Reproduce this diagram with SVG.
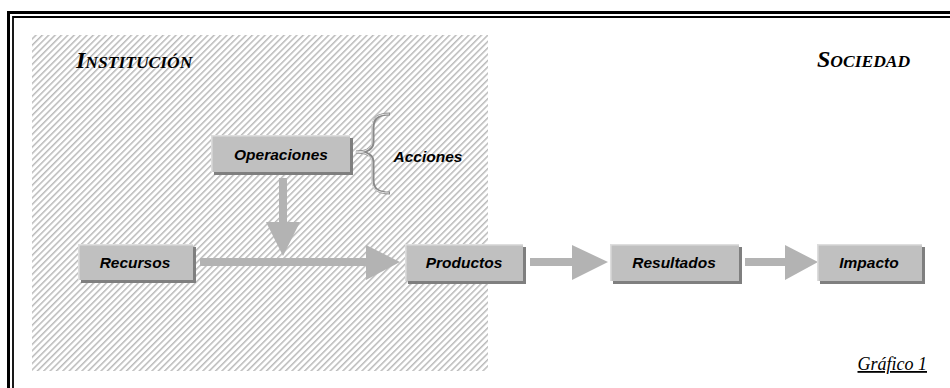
<svg xmlns="http://www.w3.org/2000/svg" width="950" height="388" viewBox="0 0 950 388">
<defs>
<pattern id="hatch" patternUnits="userSpaceOnUse" width="4.5" height="4.5" patternTransform="rotate(45)">
<rect x="0" y="0" width="1.5" height="4.5" fill="#bababa"/>
</pattern>
<style>
.box{fill:#c0c0c0;}
.shadow{fill:#7f7f7f;}
.hl{fill:none;stroke:#dedede;stroke-width:1.5;}
.lbl{font-family:"Liberation Sans",Arial,sans-serif;font-weight:bold;font-style:italic;font-size:15.5px;fill:#000;text-anchor:middle;}
.arrow{fill:#b3b3b3;}
.title{font-family:"Liberation Serif","Times New Roman",serif;font-weight:bold;font-style:italic;fill:#000;}
</style>
</defs>
<rect width="950" height="388" fill="#fff"/>
<!-- border -->
<path d="M8.5 400 V12.5 H960" fill="none" stroke="#000" stroke-width="3"/>
<path d="M13 400 V17 H960" fill="none" stroke="#000" stroke-width="1.8"/>
<!-- hatched institution area -->
<rect x="32" y="35" width="456" height="336" fill="url(#hatch)"/>
<g id="titles">
<text class="title" x="76" y="68"><tspan font-size="24">I</tspan><tspan font-size="17.5">NSTITUCIÓN</tspan></text>
<text class="title" x="817" y="67"><tspan font-size="24">S</tspan><tspan font-size="17.5">OCIEDAD</tspan></text>
<text x="927" y="370" font-family="'Liberation Serif','Times New Roman',serif" font-style="italic" font-size="18" text-anchor="end" text-decoration="underline">Gráfico 1</text>
</g>
<g id="connectors">
<polygon class="arrow" points="279,178 287,178 287,222 300,222 283,256 266,222 279,222"/>
<polygon class="arrow" points="200,258 366,258 366,245 400,262 366,280 366,266 200,266"/>
<polygon class="arrow" points="530,258 572,258 572,245 608,262 572,280 572,266 530,266"/>
<polygon class="arrow" points="745,258 785,258 785,245 818,262 785,280 785,266 745,266"/>
</g>
<g id="operaciones">
<rect class="shadow" x="214" y="138" width="139" height="37"/>
<rect class="box" x="211" y="135" width="139" height="37"/>
<path class="hl" d="M211.8 172 V135.8 H350"/>
<text class="lbl" x="281" y="160">Operaciones</text>
</g>
<g id="acciones">
<path d="M390 114 C378 114 373 118 373 128 V142 C373 149 366 152 356 152 C366 152 373 155 373 162 V180 C373 189 378 193 390 193" fill="none" stroke="#8a8a8a" stroke-width="3"/>
<path d="M390 114 C378 114 373 118 373 128 V142 C373 149 366 152 356 152 C366 152 373 155 373 162 V180 C373 189 378 193 390 193" fill="none" stroke="#e8e8e8" stroke-width="1" transform="translate(-1,0)"/>
<text x="428" y="162" class="lbl">Acciones</text>
</g>
<g id="recursos">
<rect class="shadow" x="81" y="247" width="115" height="36"/>
<rect class="box" x="78" y="244" width="115" height="36"/>
<path class="hl" d="M78.8 280 V244.8 H193"/>
<text class="lbl" x="135" y="268">Recursos</text>
</g>
<g id="productos">
<rect class="shadow" x="408" y="247" width="118" height="37"/>
<rect class="box" x="405" y="244" width="118" height="37"/>
<path class="hl" d="M405.8 281 V244.8 H523"/>
<text class="lbl" x="464" y="268">Productos</text>
</g>
<g id="resultados">
<rect class="shadow" x="613" y="247" width="129" height="37"/>
<rect class="box" x="610" y="244" width="129" height="37"/>
<path class="hl" d="M610.8 281 V244.8 H739"/>
<text class="lbl" x="674" y="268">Resultados</text>
</g>
<g id="impacto">
<rect class="shadow" x="820" y="247" width="105" height="37"/>
<rect class="box" x="817" y="244" width="105" height="37"/>
<path class="hl" d="M817.8 281 V244.8 H922"/>
<text class="lbl" x="869" y="268">Impacto</text>
</g>
</svg>
